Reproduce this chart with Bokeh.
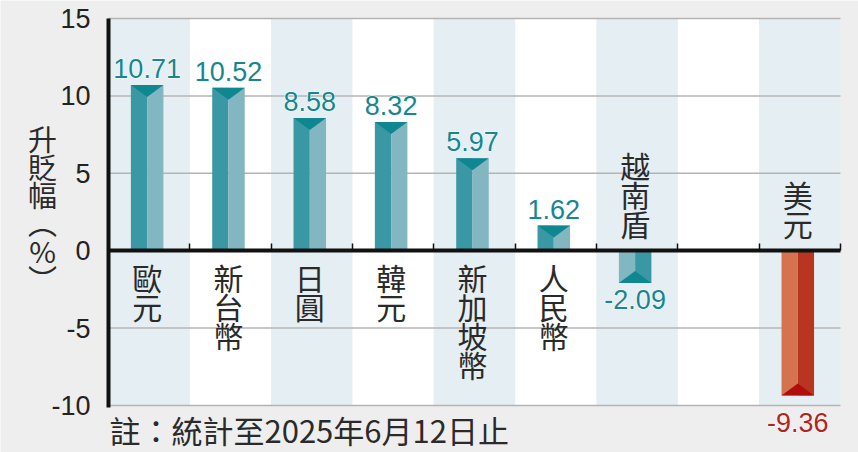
from bokeh.plotting import figure
from bokeh.models import ColumnDataSource, Range1d, LabelSet, Label, FixedTicker, PrintfTickFormatter
from bokeh.embed import file_html
from bokeh.resources import INLINE
from bokeh.core.properties import value

# ---------------- data ----------------
categories = ["歐元", "新台幣", "日圓", "韓元", "新加坡幣", "人民幣", "越南盾", "美元"]
changes = [10.71, 10.52, 8.58, 8.32, 5.97, 1.62, -2.09, -9.36]
# column slots across the chart ("" = empty slot)
columns = ["歐元", "新台幣", "日圓", "韓元", "新加坡幣", "人民幣", "越南盾", "", "美元"]
y_ticks = [-10, -5, 0, 5, 10, 15]
highlight = "美元"
y_title = "升貶幅︵%︶"
note = "註：統計至2025年6月12日止"

# ---------------- layout / style ----------------
W, H = 858, 452
PLOT_L, PLOT_T, PLOT_W, PLOT_H = 108, 18, 732, 387   # chart area in canvas px
Y_MIN, Y_MAX = y_ticks[0], y_ticks[-1]
NCOL = len(columns)
PX_X = PLOT_W / NCOL
PX_Y = PLOT_H / (Y_MAX - Y_MIN)

def dx(px):
    return (px - PLOT_L) / PX_X

def dy(py):
    return Y_MAX - (py - PLOT_T) / PX_Y

TEAL_DARK, TEAL_LIGHT, TEAL_TIP, TEAL_TEXT = "#3a98a5", "#82b7c1", "#0f8791", "#16878f"
RED_DARK, RED_LIGHT, RED_TIP, RED_TEXT = "#b8361f", "#d5724f", "#b00d0d", "#b3241a"
STRIPE = "#e5eff3"
GREY_BG = "#eeeeee"
INK = "#2a2a2a"
CJK_NAME = "Noto Sans CJK TC"
CJK = value(CJK_NAME)
NUM = value("Liberation Sans")
HW = 0.2          # half bar width (data units)
SHIFT = -0.025    # bar offset inside its column
TIP_H = 12 / PX_Y # height of the bar tip triangle

p = figure(width=W, height=H,
           x_range=Range1d(dx(0), dx(W)), y_range=Range1d(dy(H), dy(0)),
           output_backend="svg", toolbar_location=None,
           min_border_left=0, min_border_right=0, min_border_top=0, min_border_bottom=0)
p.background_fill_color = GREY_BG
p.border_fill_color = GREY_BG
p.outline_line_color = None

# column stripes
col_x = [i + 0.5 for i in range(NCOL)]
stripe_colors = [STRIPE if i % 2 == 0 else "#ffffff" for i in range(NCOL)]
p.vbar(x=col_x, width=1, bottom=Y_MIN, top=Y_MAX,
       fill_color=stripe_colors, line_color=None, level="image")

# horizontal grid lines limited to the chart area
p.xgrid.visible = False
p.ygrid.visible = False
p.segment(x0=[0] * len(y_ticks), x1=[NCOL] * len(y_ticks), y0=y_ticks, y1=y_ticks,
          line_color="#b4b4b4", line_width=1.5, level="underlay")

# y axis
p.yaxis.fixed_location = 0
p.yaxis.bounds = (Y_MIN - 0.15, Y_MAX)
p.yaxis.ticker = FixedTicker(ticks=y_ticks)
p.yaxis.formatter = PrintfTickFormatter(format="%d")
p.yaxis.axis_line_width = 4
p.yaxis.axis_line_color = "#111111"
p.yaxis.major_tick_line_color = None
p.yaxis.minor_tick_line_color = None
p.yaxis.major_label_text_font = "Liberation Sans"
p.yaxis.major_label_text_font_size = "27px"
p.yaxis.major_label_text_color = "#222222"
p.yaxis.major_label_standoff = 12

# x axis as the zero line with column-boundary ticks (no tick labels)
x_tick_pos = list(range(1, NCOL + 1))
p.xaxis.fixed_location = 0
p.xaxis.bounds = (0, NCOL)
p.xaxis.ticker = FixedTicker(ticks=x_tick_pos)
p.xaxis.major_label_overrides = {t: "" for t in x_tick_pos}
p.xaxis.axis_line_width = 4
p.xaxis.axis_line_color = "#111111"
p.xaxis.major_tick_in = 7
p.xaxis.major_tick_out = 0
p.xaxis.major_tick_line_width = 1.5
p.xaxis.major_tick_line_color = "#111111"
p.xaxis.minor_tick_line_color = None

# bars
xc = [columns.index(c) + 0.5 + SHIFT for c in categories]
is_hi = [c == highlight for c in categories]
dark = [RED_DARK if h else TEAL_DARK for h in is_hi]
light = [RED_LIGHT if h else TEAL_LIGHT for h in is_hi]
left_col = [d if v >= 0 else l for d, l, v in zip(dark, light, changes)]
right_col = [l if v >= 0 else d for d, l, v in zip(dark, light, changes)]
tip_col = [RED_TIP if h else TEAL_TIP for h in is_hi]
text_col = [RED_TEXT if h else TEAL_TEXT for h in is_hi]

src = ColumnDataSource(dict(
    left_x=[x - HW / 2 for x in xc], right_x=[x + HW / 2 for x in xc],
    top=changes, left_col=left_col, right_col=right_col))
p.vbar(x="left_x", width=HW, bottom=0, top="top", fill_color="left_col", line_color=None, source=src)
p.vbar(x="right_x", width=HW, bottom=0, top="top", fill_color="right_col", line_color=None, source=src)

tips = ColumnDataSource(dict(
    xs=[[x - HW, x + HW, x] for x in xc],
    ys=[[v, v, v - TIP_H if v >= 0 else v + TIP_H] for v in changes],
    color=tip_col))
p.patches(xs="xs", ys="ys", fill_color="color", line_color=None, source=tips)

# value labels
pos = [i for i, v in enumerate(changes) if v >= 0]
neg = [i for i, v in enumerate(changes) if v < 0]
neg_gap = [-7 if changes[i] > Y_MIN + 1 else -17 for i in neg]

def lab_src(idx, offs):
    return ColumnDataSource(dict(x=[xc[i] for i in idx], y=[changes[i] for i in idx],
                                 t=[f"{changes[i]:.2f}" for i in idx],
                                 c=[text_col[i] for i in idx], off=offs))

for idx, offs, base in ((pos, [7] * len(pos), "alphabetic"), (neg, neg_gap, "top")):
    s = lab_src(idx, offs)
    for outline in (True, False):
        ls = LabelSet(x="x", y="y", text="t", source=s, y_offset="off", text_align="center",
                      text_baseline=base, text_font=NUM, text_font_size="27px", text_color="c")
        if outline:
            ls.text_color = "white"
            ls.text_outline_color = "white"
        p.add_layout(ls)

# category labels (stacked characters)
cat_src_pos = ColumnDataSource(dict(x=[xc[i] for i in pos], y=[0] * len(pos),
                                    t=["\n".join(categories[i]) for i in pos]))
cat_src_neg = ColumnDataSource(dict(x=[xc[i] for i in neg], y=[0] * len(neg),
                                    t=["\n".join(categories[i]) for i in neg]))
p.add_layout(LabelSet(x="x", y="y", text="t", source=cat_src_pos, y_offset=-4,
                      text_align="center", text_baseline="top", text_font=CJK,
                      text_font_size="30px", text_line_height=0.66, text_color=INK))
p.add_layout(LabelSet(x="x", y="y", text="t", source=cat_src_neg, y_offset=6,
                      text_align="center", text_baseline="bottom", text_font=CJK,
                      text_font_size="30px", text_line_height=0.66, text_color=INK))

# y-axis title, stacked vertically
p.add_layout(Label(x=dx(42), y=dy(116), text="\n".join(y_title),
                   text_align="center", text_baseline="top", text_font=CJK_NAME,
                   text_font_size="29px", text_line_height=0.67, text_color=INK))

# footnote
p.add_layout(Label(x=dx(109), y=dy(406), text=note,
                   text_align="left", text_baseline="top", text_font=CJK_NAME,
                   text_font_size="31px", text_color=INK))

open("out.html", "w").write(file_html(p, INLINE))
